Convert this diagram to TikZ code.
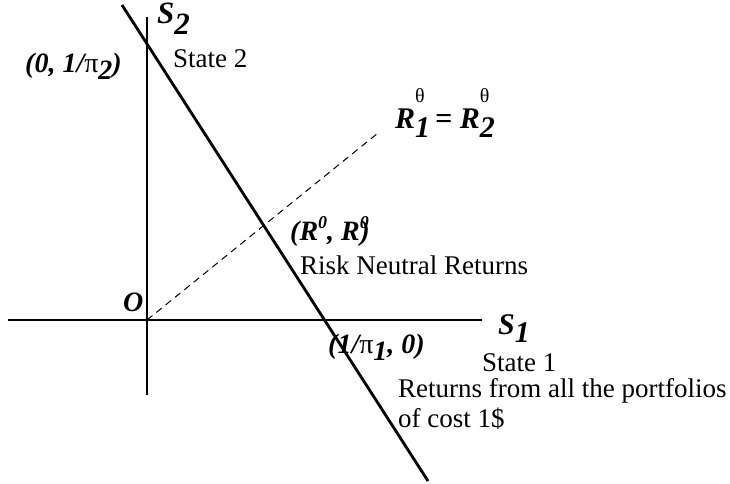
\documentclass[tikz,border=0pt]{standalone}
\usepackage{fontspec}
\setmainfont{Liberation Serif}
\newcommand{\dn}[1]{\raisebox{-0.28em}{#1}}
\newcommand{\pis}{{\upshape\mdseries π}}
\newcommand{\thsub}[1]{\rlap{\raisebox{0.85em}{\upshape\mdseries\fontsize{20}{20}\selectfont θ}}\raisebox{-0.3em}{#1}}
\newcommand{\zsup}{\raisebox{0.42em}{\fontsize{18}{18}\selectfont 0}}

\begin{document}
\begin{tikzpicture}[x=1pt,y=-1pt,
txt/.style={font=\fontsize{27}{30}\selectfont,inner sep=0pt,anchor=base west},
mth/.style={font=\fontsize{28}{30}\selectfont\bfseries\itshape,inner sep=0pt,anchor=base west},
axisline/.style={line width=1.2pt},
costline/.style={line width=2.8pt},
diagline/.style={line width=1pt,dash pattern=on 7pt off 5pt}]
\useasboundingbox (0,0) rectangle (730,483);
\coordinate (O) at (147,320);
\coordinate (xl) at (8,320);
\coordinate (xr) at (482,320);
\coordinate (yb) at (147,395);
\coordinate (yt) at (147,17);
\coordinate (ct) at (122,5);
\coordinate (cb) at (428,481);
\coordinate (dg) at (378,133);
\draw[axisline] (xl) -- (xr);
\draw[axisline] (yb) -- (yt);
\draw[costline] (ct) -- (cb);
\draw[diagline] (O) -- (dg);
\node[mth,font=\fontsize{31}{32}\selectfont\bfseries\itshape] (s2) at (157,23) {S\raisebox{-0.36em}{2}};
\node[txt] (st2) at (173,67) {State 2};
\node[mth] (p2) at (25,72) {(0, 1/\pis\dn{2})};
\node[mth,font=\fontsize{30}{32}\selectfont\bfseries\itshape] (req) at (395,128) {R\thsub{1}\,= R\thsub{2}};
\node[mth] (rn) at (290,240) {(R\zsup, R\zsup\hspace{-0.3em})};
\node[txt] (rnr) at (300,274) {Risk Neutral Returns};
\node[mth] (o) at (123,311) {O};
\node[mth,font=\fontsize{30}{32}\selectfont\bfseries\itshape] (s1) at (498,334) {S\dn{1}};
\node[mth] (p1) at (328,353) {(1/\pis\dn{1}, 0)};
\node[txt] (st1) at (482,371) {State 1};
\node[txt,align=left] (ret) at (398,427) {Returns from all the portfolios\\of cost 1\$};
\end{tikzpicture}
\end{document}
